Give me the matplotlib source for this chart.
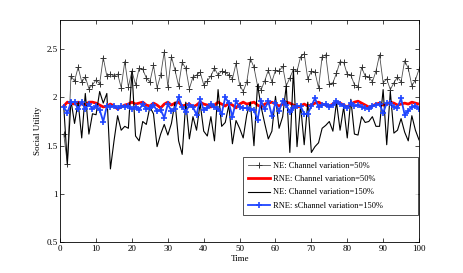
import numpy as np
import matplotlib
matplotlib.use("Agg")
import matplotlib.pyplot as plt

plt.rcParams['font.family'] = ['Liberation Serif', 'DejaVu Serif']

time = np.arange(1, 101)

ne_50 = [1.62, 1.31, 2.22, 2.17, 2.31, 2.16, 2.21, 2.09, 2.13, 2.18,
         2.14, 2.41, 2.22, 2.24, 2.22, 2.24, 2.10, 2.37, 2.11, 2.27,
         2.13, 2.30, 2.29, 2.20, 2.16, 2.33, 2.10, 2.23, 2.47, 2.11,
         2.42, 2.28, 2.12, 2.36, 2.30, 2.09, 2.21, 2.23, 2.26, 2.13,
         2.17, 2.22, 2.30, 2.23, 2.27, 2.26, 2.23, 2.19, 2.35, 2.13,
         2.06, 2.16, 2.40, 2.31, 2.12, 2.08, 2.17, 2.28, 2.16, 2.28,
         2.27, 2.32, 2.12, 2.20, 2.29, 2.27, 2.42, 2.45, 2.19, 2.27,
         2.26, 2.10, 2.42, 2.44, 2.14, 2.15, 2.25, 2.37, 2.36, 2.24,
         2.23, 2.13, 2.11, 2.31, 2.22, 2.21, 2.16, 2.27, 2.44, 2.15,
         2.19, 2.08, 2.15, 2.21, 2.16, 2.38, 2.30, 2.12, 2.18, 2.29]

rne_50 = [1.91, 1.95, 1.94, 1.93, 1.95, 1.93, 1.92, 1.95, 1.95, 1.94,
          1.92, 1.90, 1.91, 1.93, 1.91, 1.88, 1.90, 1.92, 1.93, 1.95,
          1.93, 1.94, 1.95, 1.92, 1.91, 1.94, 1.92, 1.89, 1.93, 1.95,
          1.92, 1.94, 1.95, 1.91, 1.92, 1.93, 1.90, 1.92, 1.95, 1.93,
          1.92, 1.90, 1.92, 1.95, 1.93, 1.91, 1.94, 1.92, 1.89, 1.93,
          1.95, 1.93, 1.94, 1.95, 1.92, 1.90, 1.93, 1.94, 1.95, 1.93,
          1.91, 1.93, 1.95, 1.94, 1.92, 1.90, 1.91, 1.93, 1.91, 1.92,
          1.94, 1.95, 1.93, 1.92, 1.91, 1.93, 1.95, 1.94, 1.92, 1.90,
          1.93, 1.95, 1.96, 1.94, 1.92, 1.90, 1.91, 1.93, 1.94, 1.92,
          1.93, 1.95, 1.94, 1.92, 1.93, 1.94, 1.93, 1.95, 1.94, 1.93]

ne_150 = [1.90, 1.31, 1.97, 1.73, 1.95, 1.58, 2.04, 1.62, 1.83, 1.82,
          2.06, 1.94, 2.04, 1.26, 1.55, 1.81, 1.66, 1.70, 1.68, 2.27,
          1.60, 1.55, 1.75, 1.72, 1.90, 1.83, 1.49, 1.62, 1.72, 1.61,
          1.73, 1.95, 1.55, 1.41, 1.95, 1.57, 1.80, 1.66, 1.94, 1.65,
          1.60, 1.80, 1.55, 2.08, 1.70, 1.74, 1.92, 1.52, 1.76, 1.68,
          1.58, 1.82, 1.95, 1.50, 2.13, 1.90, 1.73, 1.57, 1.65, 2.01,
          1.68, 1.80, 2.12, 1.43, 2.28, 1.49, 1.92, 1.51, 1.95, 1.43,
          1.49, 1.53, 1.68, 1.71, 1.75, 1.65, 1.95, 1.66, 1.90, 1.58,
          1.98, 1.62, 1.61, 1.80, 1.74, 1.75, 1.80, 1.70, 1.70, 2.08,
          1.51, 2.06, 1.63, 1.66, 1.78, 1.64, 1.55, 1.81, 1.66, 1.56]

rne_150 = [1.90, 1.84, 1.95, 1.95, 1.88, 1.95, 1.88, 1.93, 1.88, 1.91,
           1.87, 1.75, 1.91, 1.90, 1.91, 1.89, 1.91, 1.90, 1.91, 1.88,
           1.90, 1.87, 1.93, 1.88, 1.89, 1.92, 1.86, 1.87, 1.79, 1.93,
           1.86, 1.88, 2.00, 1.90, 1.85, 1.92, 1.90, 1.82, 1.98, 1.87,
           1.89, 1.93, 1.90, 1.88, 1.83, 2.00, 1.94, 1.80, 1.96, 1.90,
           1.89, 1.89, 1.88, 1.87, 1.77, 1.96, 1.88, 1.96, 1.81, 1.94,
           1.86, 1.96, 1.92, 1.85, 1.89, 1.91, 1.91, 1.83, 1.83, 1.91,
           1.99, 1.90, 1.92, 1.93, 1.90, 1.92, 1.96, 1.93, 1.91, 1.89,
           1.94, 1.91, 1.92, 1.90, 1.89, 1.88, 1.91, 1.92, 1.93, 1.84,
           1.94, 1.94, 1.90, 1.89, 1.99, 1.82, 1.86, 1.90, 1.91, 1.88]

labels = ['NE: Channel variation=50%', 'RNE: Channel variation=50%',
          'NE: Channel variation=150%', 'RNE: sChannel variation=150%']

fig = plt.figure(figsize=(4.63, 2.73), dpi=100)
ax = fig.add_axes([0.13, 0.112, 0.775, 0.815])

ax.plot(time, ne_50, color='0.3', lw=0.6, marker='+', ms=4, mew=0.7,
        mec='0.2', label=labels[0])
ax.plot(time, rne_50, color='red', lw=2.0, label=labels[1])
ax.plot(time, ne_150, color='black', lw=0.8, label=labels[2])
ax.plot(time, rne_150, color='#1f45ff', lw=1.3, marker='+', ms=4.5,
        mew=1.2, label=labels[3])

ax.set_xlim(0, 100)
ax.set_ylim(0.5, 2.8)
ax.set_xticks(np.arange(0, 101, 10))
ax.set_yticks([0.5, 1, 1.5, 2, 2.5])
ax.set_yticklabels(['0.5', '1', '1.5', '2', '2.5'])
ax.tick_params(direction='in', top=True, right=True, labelsize=6.5,
               length=3, width=0.5, pad=2)
for s in ax.spines.values():
    s.set_linewidth(0.6)

ax.set_xlabel('Time', fontsize=6.5, labelpad=1)
ax.set_ylabel('Social Utility', fontsize=6.5, labelpad=3)

# MATLAB-style legend box: wider than its text
leg = ax.legend(loc='lower left', bbox_to_anchor=(0.51, 0.124, 0.487, 0.247),
                mode='expand', borderaxespad=0, fontsize=6, frameon=True,
                fancybox=False, edgecolor='black', handlelength=2.6,
                borderpad=0.6, labelspacing=0.65, handletextpad=0.4)
leg.get_frame().set_linewidth(0.6)

plt.savefig("out.png", dpi=100)
